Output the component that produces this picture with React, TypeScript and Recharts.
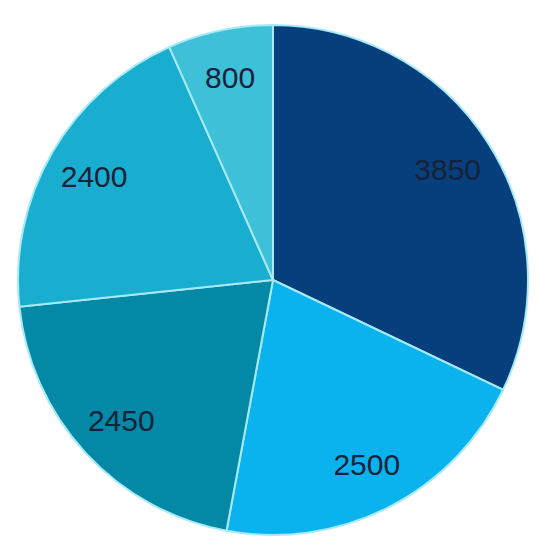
import React from 'react'
import { PieChart, Pie, Cell } from 'recharts'

const labels = ['3850', '2500', '2450', '2400', '800']
const values = [3850, 2500, 2450, 2400, 800]
const colors = ['#073F7C', '#0AB3EE', '#0388A6', '#19AECF', '#3DC0D8']

const data = labels.map((name, i) => ({ name, value: values[i], color: colors[i] }))

const RADIAN = Math.PI / 180

const renderLabel = (props: any) => {
  const { cx, cy, midAngle, outerRadius, name } = props
  const r = outerRadius * 0.81
  const x = cx + r * Math.cos(-midAngle * RADIAN)
  const y = cy + r * Math.sin(-midAngle * RADIAN)
  return (
    <text
      x={x}
      y={y}
      fill="#15223A"
      fontSize={30}
      fontFamily="'Liberation Sans', Arial, sans-serif"
      textAnchor="middle"
      dominantBaseline="central"
    >
      {name}
    </text>
  )
}

export default function App() {
  return (
    <div style={{ position: 'absolute', left: 0, top: 0, width: 540, height: 540, background: '#ffffff' }}>
      <PieChart width={540} height={540}>
        <Pie
          data={data}
          dataKey="value"
          cx={268}
          cy={275}
          outerRadius={255}
          startAngle={90}
          endAngle={-270}
          stroke="#A6EAF7"
          strokeWidth={2}
          label={renderLabel}
          labelLine={false}
          isAnimationActive={false}
        >
          {data.map((entry, index) => (
            <Cell key={`cell-${index}`} fill={entry.color} />
          ))}
        </Pie>
      </PieChart>
    </div>
  )
}
